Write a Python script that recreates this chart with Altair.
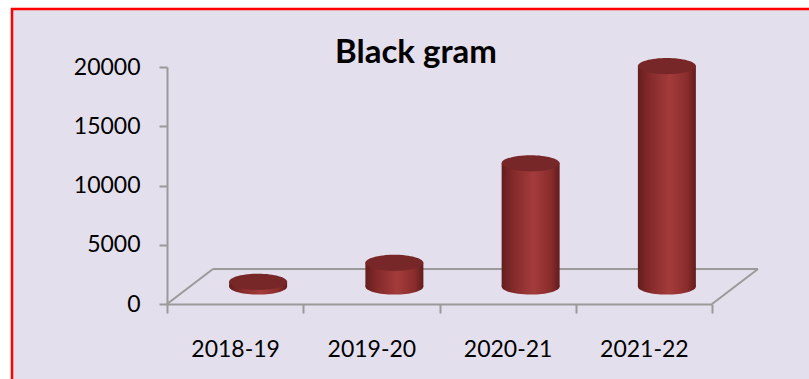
import altair as alt
import pandas as pd

years = ["2018-19", "2019-20", "2020-21", "2021-22"]
values = [400, 2000, 10400, 18600]
y_ticks = [0, 5000, 10000, 15000, 20000]
title_text = "Black gram"

df = pd.DataFrame({"year": years, "value": values})
one = pd.DataFrame({"k": [0]})

W, H = 545, 237
DX, DY = 23, -17.5          # half-depth shift of the 3D bars
BDX, BDY = 46, -35          # full depth of floor
AX = "#9A9A9A"

k = 0.28
c = 0.5523
ell = (f"M -1 0 C -1 {-k*c:.4f} {-c} {-k} 0 {-k} C {c} {-k} 1 {-k*c:.4f} 1 0 "
       f"C 1 {k*c:.4f} {c} {k} 0 {k} C {-c} {k} -1 {k*c:.4f} -1 0 Z")

grad = alt.Gradient(
    gradient="linear", x1=0, x2=1, y1=0, y2=0,
    stops=[
        alt.GradientStop(offset=0, color="#641E1E"),
        alt.GradientStop(offset=0.2, color="#842A2A"),
        alt.GradientStop(offset=0.55, color="#A43B3B"),
        alt.GradientStop(offset=0.85, color="#8A2C2C"),
        alt.GradientStop(offset=1, color="#621D1D"),
    ],
)

xenc = alt.X(
    "year:N", sort=years,
    scale=alt.Scale(paddingInner=0, paddingOuter=0),
    axis=alt.Axis(
        title=None, labelAngle=0, tickBand="extent", domainColor=AX, domainWidth=2,
        tickColor=AX, tickWidth=2, tickSize=9, labelPadding=25, zindex=1,
        labelFont="Lato", labelFontSize=23, labelColor="black",
    ),
)
yenc = alt.Y(
    "value:Q",
    scale=alt.Scale(domain=[0, 20000], nice=False),
    axis=alt.Axis(
        title=None, values=y_ticks, format="d", grid=False, domainColor=AX, domainWidth=2,
        tickColor=AX, tickWidth=2, tickSize=8, labelPadding=19, zindex=1,
        labelFont="Lato", labelFontSize=23, labelColor="black",
    ),
)

bg = alt.Chart(one).mark_rect(fill="#E4DFEC", stroke="#FF0000", strokeWidth=2.5).encode(
    x=alt.value(12 - 167), x2=alt.value(W + 120), y=alt.value(9 - 67), y2=alt.value(H + 120)
)

back = alt.Chart(one).mark_rule(color=AX, strokeWidth=2).encode(
    x=alt.value(BDX), x2=alt.value(W + BDX), y=alt.value(H + BDY), y2=alt.value(H + BDY)
)
left = alt.Chart(one).mark_rule(color=AX, strokeWidth=2).encode(
    x=alt.value(0), x2=alt.value(BDX), y=alt.value(H), y2=alt.value(H + BDY)
)
right = alt.Chart(one).mark_rule(color=AX, strokeWidth=2).encode(
    x=alt.value(W), x2=alt.value(W + BDX), y=alt.value(H), y2=alt.value(H + BDY)
)

bottom = alt.Chart(df).mark_point(
    shape=ell, size=58 * 58, filled=True, opacity=1, fill=grad, strokeWidth=0,
    xOffset=DX, yOffset=DY,
).encode(x=xenc, y=alt.datum(0))

body = alt.Chart(df).mark_bar(width=58, color=grad, xOffset=DX, yOffset=DY).encode(
    x=xenc, y=yenc
)

top = alt.Chart(df).mark_point(
    shape=ell, size=58 * 58, filled=True, opacity=1, fill="#772727", strokeWidth=0,
    xOffset=DX, yOffset=DY,
).encode(x=xenc, y=yenc)

title = alt.Chart(one).mark_text(
    text=title_text, font="Lato", fontSize=33, fontWeight="bold", color="black",
    align="center", baseline="alphabetic",
).encode(x=alt.value(416 - 167), y=alt.value(63 - 67))

chart = alt.layer(bg, back, left, right, bottom, body, top, title).properties(
    width=W, height=H,
    padding={"left": 167, "top": 67, "right": 809 - 167 - W, "bottom": 379 - 67 - H},
    autosize=alt.AutoSizeParams(type="none"),
    background="white",
).configure_view(strokeWidth=0)

chart.save("out.html", embed_options={"renderer": "svg", "actions": False})
